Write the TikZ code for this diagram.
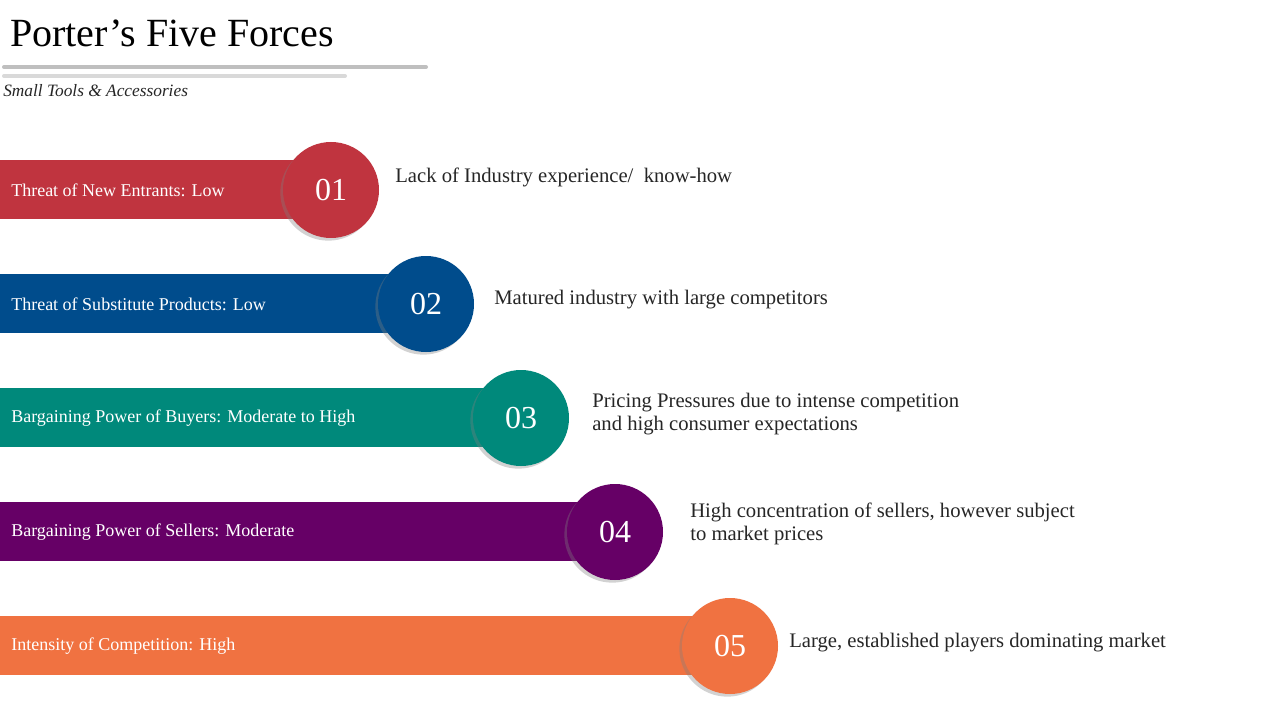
\documentclass[tikz,border=0pt]{standalone}
\usepackage{fontspec}
\setmainfont{Liberation Serif}
\usetikzlibrary{shadows}
\definecolor{cA}{HTML}{C0343F}
\definecolor{cB}{HTML}{004C8C}
\definecolor{cC}{HTML}{00897B}
\definecolor{cD}{HTML}{660066}
\definecolor{cE}{HTML}{F07241}
\definecolor{txt}{HTML}{262626}
\tikzset{
 bar/.style={anchor=north west,inner sep=0pt,minimum height=44.25pt},
 bartext/.style={anchor=west,text=white,font=\fontsize{13.5}{15}\selectfont,inner sep=0pt},
 num/.style={circle,minimum size=72pt,inner sep=0pt,text=white,font=\fontsize{24}{26}\selectfont,drop shadow={shadow xshift=-2pt,shadow yshift=-2pt,opacity=0.35}},
 desc/.style={anchor=west,text=txt,font=\fontsize{15.5}{17.5}\selectfont,align=left,inner sep=0pt}
}
\begin{document}
\begin{tikzpicture}[x=0.75pt,y=-0.75pt]
\useasboundingbox[fill=white] (0,0) rectangle (1280,720);
\node[anchor=west,inner sep=0pt,font=\fontsize{30}{32}\selectfont,text=black] (title) at (10,33) {Porter’s Five Forces};
\draw[line width=3pt,color=black!25,line cap=round] (4,67) -- (426,67);
\draw[line width=3pt,color=black!15,line cap=round] (4,76) -- (345,76);
\node[anchor=west,inner sep=0pt,font=\itshape\fontsize{13}{15}\selectfont,text=txt] (sub) at (3,91) {Small Tools \& Accessories};
\foreach \i/\y/\cx/\c/\n/\lab in {1/190/331/cA/01/{Threat of New Entrants: Low},2/304/426/cB/02/{Threat of Substitute Products: Low},3/418/521/cC/03/{Bargaining Power of Buyers: Moderate to High},4/532/615/cD/04/{Bargaining Power of Sellers: Moderate},5/646/730/cE/05/{Intensity of Competition: High}}{
  \fill[\c] (0,\y-30) rectangle (\cx,\y+29);
  \node[bartext] (b\i) at (11,\y) {\lab};
  \node[num,fill=\c] (c\i) at (\cx,\y) {\n};
}
\node[desc] (d1) at (395,177) {Lack of Industry experience/~ know-how};
\node[desc] (d2) at (494,300) {Matured industry with large competitors};
\node[desc] (d3) at (592,414) {Pricing Pressures due to intense competition\\and high consumer expectations};
\node[desc] (d4) at (690,524) {High concentration of sellers, however subject\\to market prices};
\node[desc] (d5) at (789,643) {Large, established players dominating market};
\end{tikzpicture}
\end{document}
